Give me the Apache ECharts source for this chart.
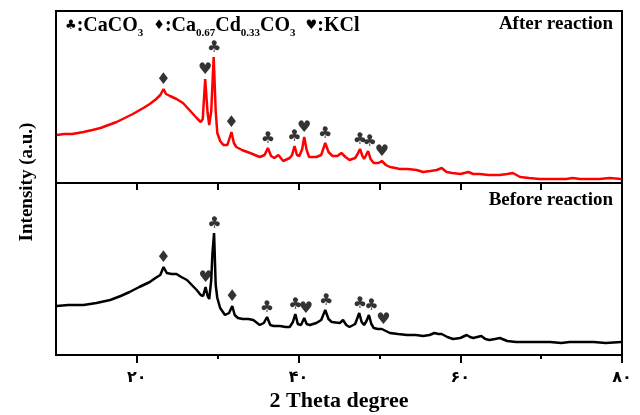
<!DOCTYPE html>
<html lang="en">
<head>
    <meta charset="UTF-8">
    <title>XRD before / after reaction</title>
    <script src="https://cdn.jsdelivr.net/npm/echarts@6/dist/echarts.min.js"></script>
    <style>
        html, body { margin: 0; padding: 0; background: #fff; }
    </style>
</head>
<body>
<div id="main" style="width: 640px;height:415px;"></div>

<script type="text/javascript">
    // 2θ / intensity pairs (a.u., 0..172 per panel)
    var afterCurve = [
        [10.1,48],[11.0,49],[12.0,49],[13.4,51],[14.5,53],[15.5,55],[16.5,58],[17.5,61],[18.5,65],[19.5,69],
        [20.8,75],[21.6,79],[22.4,84],[22.9,88],[23.3,94],[23.6,89],[24.1,87],[24.9,84],[25.7,80],[26.5,73],
        [27.4,65],[27.9,61],[28.15,64],[28.45,104],[28.75,70],[28.95,58],[29.2,72],[29.5,126],[29.75,72],[29.95,50],
        [30.3,42],[30.7,38],[31.2,38],[31.7,51],[32.0,40],[32.3,36],[33.0,33],[34.0,30],[34.6,28],[35.2,26],
        [35.8,28],[36.2,35],[36.6,27],[37.0,25],[37.5,28],[38.1,22],[38.9,25],[39.2,28],[39.5,37],[39.8,28],
        [40.1,27],[40.45,34],[40.7,46],[41.0,33],[41.3,26],[42.2,26],[42.8,28],[43.3,40],[43.7,31],[44.2,27],
        [44.8,27],[45.3,30],[45.8,26],[46.3,23],[47.0,25],[47.3,29],[47.6,34],[47.9,27],[48.1,24],[48.3,27],
        [48.6,32],[48.9,24],[49.3,20],[49.9,20],[50.3,22],[50.8,18],[51.3,16],[52.0,15],[52.5,14],[53.5,14],
        [54.6,13],[55.4,11],[56.3,12],[57.1,13],[57.7,15],[58.3,11],[59.0,10],[60.0,9],[61.0,11],[61.6,9],
        [62.4,9],[63.5,8],[64.9,8],[65.8,9],[66.5,10],[67.4,6],[68.5,5],[69.8,4],[71.5,4],[73.1,4],
        [73.9,5],[74.8,4],[76.0,4],[77.2,4],[78.5,5],[79.9,4]
    ];
    var beforeCurve = [
        [10.1,49],[11.5,50],[13.4,50],[15.0,52],[16.7,55],[18.0,59],[19.1,63],[20.3,68],[21.6,73],[22.3,77],
        [22.9,80],[23.3,88],[23.7,82],[24.3,81],[24.9,81],[25.5,78],[26.2,75],[26.8,70],[27.4,65],[27.9,60],
        [28.2,59],[28.5,68],[28.75,59],[28.95,56],[29.2,75],[29.35,102],[29.55,122],[29.75,70],[29.95,57],[30.3,47],
        [30.9,40],[31.4,42],[31.8,49],[32.1,40],[32.5,37],[33.1,36],[33.8,36],[34.4,35],[35.2,30],[35.7,32],
        [36.1,38],[36.5,30],[36.9,29],[37.7,29],[38.4,28],[38.9,28],[39.3,33],[39.6,41],[39.9,31],[40.3,30],
        [40.7,37],[41.0,31],[41.4,30],[42.2,32],[42.8,35],[43.3,45],[43.7,36],[44.1,33],[45.1,32],[45.5,35],
        [45.9,30],[46.3,28],[47.0,31],[47.5,42],[47.8,33],[48.1,30],[48.4,34],[48.7,40],[49.0,31],[49.3,27],
        [49.8,26],[50.3,26],[50.8,24],[51.3,22],[52.3,21],[53.4,20],[54.5,20],[55.4,19],[56.2,20],[56.8,22],
        [57.3,21],[57.7,21],[58.4,18],[59.1,16],[60.0,17],[60.8,20],[61.2,18],[61.6,17],[62.6,19],[63.1,16],
        [63.6,15],[64.3,16],[64.9,17],[65.8,14],[66.9,13],[68.5,13],[70.0,13],[71.1,13],[72.5,12],[73.5,13],
        [75.2,13],[76.5,13],[78.0,12],[79.9,13]
    ];
    // phase markers: [2θ, peak intensity, glyph]
    var afterMarks = [
        [23.3,94,'♦'],[28.45,104,'♥'],[29.55,126,'♣'],[31.7,51,'♦'],[36.2,35,'♣'],[39.5,37,'♣'],
        [40.7,46,'♥'],[43.3,40,'♣'],[47.6,34,'♣'],[48.8,32,'♣'],[50.3,22,'♥']
    ];
    var beforeMarks = [
        [23.3,88,'♦'],[28.5,68,'♥'],[29.6,122,'♣'],[31.8,49,'♦'],[36.1,38,'♣'],[39.6,41,'♣'],
        [40.9,37,'♥'],[43.4,45,'♣'],[47.6,42,'♣'],[49.0,40,'♣'],[50.5,26,'♥']
    ];
    var majorTicks = [20, 40, 60, 80];
    var majorTickLabels = ['۲۰', '۴۰', '۶۰', '۸۰'];
    var minorTicks = [30, 50, 70];
    var dividerTicks = [20, 30, 40, 50, 60, 70];

    var serif = 'Liberation Serif';
    var myChart = echarts.init(document.getElementById('main'));

    function markSeries(data, xi, yi) {
        return {
            type: 'scatter',
            xAxisIndex: xi,
            yAxisIndex: yi,
            symbolSize: 1,
            itemStyle: {color: 'transparent'},
            silent: true,
            label: {
                show: true,
                position: 'top',
                distance: 1,
                formatter: function (p) { return p.value[2]; },
                color: '#000',
                fontSize: 16,
                fontFamily: 'DejaVu Sans',
                fontWeight: 'bold'
            },
            data: data,
            z: 5
        };
    }

    var hiddenX = {
        type: 'value', min: 10, max: 80,
        axisLine: {show: false}, axisTick: {show: false},
        axisLabel: {show: false}, splitLine: {show: false}
    };

    myChart.setOption({
        animation: false,
        title: [{
            left: 60, top: 8,
            text: '{g|♣}{t|:CaCO}{s|3}{t|  }{g|♦}{t|:Ca}{s|0.67}{t|Cd}{s|0.33}{t|CO}{s|3}{t|  }{g|♥}{t|:KCl}',
            textStyle: {
                rich: {
                    t: {fontFamily: serif, fontWeight: 'bold', fontSize: 20, color: '#000', lineHeight: 26},
                    g: {fontFamily: 'DejaVu Sans', fontWeight: 'bold', fontSize: 13, color: '#000', lineHeight: 26},
                    s: {fontFamily: serif, fontWeight: 'bold', fontSize: 11, color: '#000', lineHeight: 11, verticalAlign: 'bottom'}
                }
            }
        }, {
            right: 22, top: 10,
            text: 'After reaction',
            textStyle: {fontFamily: serif, fontWeight: 'bold', fontSize: 19, color: '#000'}
        }, {
            right: 22, top: 186,
            text: 'Before reaction',
            textStyle: {fontFamily: serif, fontWeight: 'bold', fontSize: 19, color: '#000'}
        }],
        graphic: [{
            type: 'text',
            x: 27, y: 182,
            rotation: Math.PI / 2,
            style: {
                text: 'Intensity (a.u.)',
                fill: '#000',
                font: 'bold 19px "Liberation Serif"',
                textAlign: 'center',
                textVerticalAlign: 'middle'
            }
        }],
        grid: [
            {left: 56, right: 18, top: 11, height: 172, show: true, borderColor: '#000', borderWidth: 2, backgroundColor: 'transparent'},
            {left: 56, right: 18, top: 183, height: 172, show: true, borderColor: '#000', borderWidth: 2, backgroundColor: 'transparent'}
        ],
        xAxis: [
            Object.assign({gridIndex: 0}, hiddenX),
            {
                gridIndex: 1, type: 'value', min: 10, max: 80, position: 'bottom',
                axisLine: {show: true, lineStyle: {color: '#000', width: 2}},
                axisTick: {show: true, length: 8, lineStyle: {color: '#000', width: 2}, customValues: majorTicks},
                axisLabel: {
                    customValues: majorTicks,
                    margin: 15,
                    color: '#000', fontSize: 16, fontWeight: 'bold', fontFamily: 'DejaVu Sans',
                    formatter: function (v) { return majorTickLabels[majorTicks.indexOf(v)]; }
                },
                splitLine: {show: false},
                name: '2 Theta degree',
                nameLocation: 'middle',
                nameGap: 35,
                nameTextStyle: {fontFamily: serif, fontWeight: 'bold', fontSize: 22, color: '#000'}
            },
            {
                gridIndex: 1, type: 'value', min: 10, max: 80, position: 'bottom', offset: 0,
                axisLine: {show: false},
                axisTick: {show: true, length: 4, lineStyle: {color: '#000', width: 2}, customValues: minorTicks},
                axisLabel: {show: false}, splitLine: {show: false}
            },
            {
                gridIndex: 1, type: 'value', min: 10, max: 80, position: 'top',
                axisLine: {show: false},
                axisTick: {show: true, inside: true, length: 7, lineStyle: {color: '#000', width: 2}, customValues: dividerTicks},
                axisLabel: {show: false}, splitLine: {show: false}
            }
        ],
        yAxis: [
            {gridIndex: 0, type: 'value', min: 0, max: 172, show: false},
            {gridIndex: 1, type: 'value', min: 0, max: 172, show: false}
        ],
        series: [{
            name: 'After reaction',
            type: 'line',
            xAxisIndex: 0, yAxisIndex: 0,
            showSymbol: false,
            lineStyle: {color: '#ff0000', width: 2.5},
            data: afterCurve
        }, {
            name: 'Before reaction',
            type: 'line',
            xAxisIndex: 1, yAxisIndex: 1,
            showSymbol: false,
            lineStyle: {color: '#000', width: 2.5},
            data: beforeCurve
        },
            markSeries(afterMarks, 0, 0),
            markSeries(beforeMarks, 1, 1)
        ]
    });
</script>
</body>
</html>
